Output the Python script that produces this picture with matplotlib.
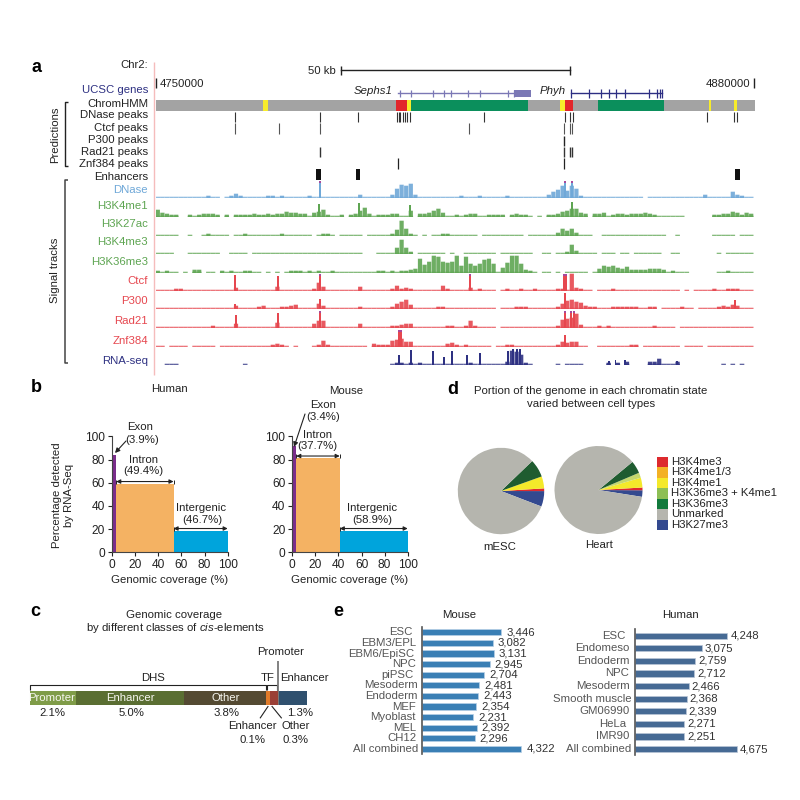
# multi panel chromatin figure
import numpy as np
import matplotlib
matplotlib.use('Agg')
import matplotlib.pyplot as plt
from matplotlib.patches import Rectangle

plt.rcParams['font.family'] = ['Liberation Sans', 'DejaVu Sans']
plt.rcParams['mathtext.fontset'] = 'custom'
plt.rcParams['mathtext.it'] = 'Liberation Sans:italic'
plt.rcParams['mathtext.rm'] = 'Liberation Sans'

# ---- panel a, positions in kb from 4750000 ----
hmm_states = ['gray', 'yellow', 'gray', 'red', 'yellow', 'green', 'gray', 'yellow', 'red', 'gray',
              'green', 'gray', 'yellow', 'gray', 'yellow', 'gray']
hmm_edges = [0, 23.4, 24.5, 52.2, 54.7, 55.5, 81.0, 87.9, 89.0, 90.8, 96.3, 110.5, 120.3, 120.7, 125.8, 126.4, 130.3]
hmm_colors = {'gray': '#a3a3a3', 'yellow': '#f7ec2b', 'red': '#e2262b', 'green': '#0b8f5c'}

dnase_peaks = [17.3, 35.8, 44.0, 52.6, 52.9, 53.2, 53.8, 54.2, 54.7, 55.3, 71.5, 89.0, 90.1, 90.8, 119.8, 125.8, 126.4]
ctcf_peaks = [17.3, 26.8, 35.8, 68.2, 88.8, 90.1, 90.6]
p300_peaks = [88.8]
rad21_peaks = [35.8, 88.8, 90.1, 90.6]
znf384_peaks = [52.7, 88.9]
enhancer_starts = [34.8, 43.6, 126.0]
enhancer_ends = [35.9, 44.5, 127.0]

sephs1_exons = [53.2, 55.5, 60.4, 62.7, 64.2, 67.9, 70.5, 76.7, 77.9]
phyh_exons = [90.3, 94.2, 96.8, 98.5, 100.0, 102.0, 107.3, 109.1, 109.7, 110.0]

dnase_bins = [1, 1, 1, 1, 1, 1, 1, 1, 1, 1,
              1, 2, 1, 1, 0, 1, 2, 4, 2, 1,
              1, 1, 1, 1, 2, 2, 1, 2, 1, 1,
              1, 1, 1, 2, 1, 1, 1, 1, 1, 1,
              1, 1, 1, 1, 3, 1, 1, 1, 1, 1,
              1, 3, 9, 13, 12, 14, 3, 1, 1, 1,
              1, 1, 1, 1, 1, 1, 2, 1, 1, 1,
              2, 1, 1, 1, 1, 1, 2, 1, 1, 1,
              1, 1, 1, 1, 1, 3, 6, 8, 12, 7,
              12, 9, 2, 1, 1, 1, 1, 1, 1, 1,
              1, 1, 1, 1, 1, 1, 0, 1, 1, 1,
              1, 1, 1, 1, 1, 1, 1, 1, 1, 3,
              1, 1, 1, 1, 1, 6, 3, 2, 1, 1]
dnase_spikes = [(35.8, 17), (89.0, 17), (90.5, 17)]

k4me1_bins = [7, 4, 3, 2, 2, 0, 0, 2, 1, 2,
              3, 3, 3, 2, 0, 2, 0, 2, 2, 2,
              2, 3, 2, 2, 3, 2, 3, 3, 5, 4,
              4, 3, 3, 1, 4, 5, 7, 2, 1, 1,
              2, 0, 2, 3, 6, 9, 3, 1, 2, 2,
              2, 3, 3, 1, 1, 6, 0, 3, 3, 4,
              6, 8, 4, 1, 1, 2, 1, 2, 3, 3,
              1, 1, 2, 2, 2, 2, 0, 2, 3, 2,
              2, 1, 0, 1, 0, 2, 2, 3, 5, 6,
              8, 8, 4, 3, 0, 3, 3, 4, 1, 2,
              3, 3, 2, 3, 3, 3, 4, 3, 2, 1,
              1, 1, 1, 1, 1, 0, 0, 0, 0, 0,
              0, 2, 2, 3, 3, 5, 4, 2, 4, 3]
k4me1_spikes = [(35.5, 13), (44.3, 14), (55.3, 12), (90.6, 15)]

k27ac_bins = [1, 1, 1, 1, 1, 0, 0, 1, 0, 0,
              1, 2, 1, 1, 1, 1, 0, 1, 1, 2,
              1, 1, 1, 1, 1, 1, 1, 2, 1, 1,
              1, 1, 1, 1, 0, 1, 2, 2, 1, 0,
              1, 1, 1, 1, 1, 0, 1, 1, 1, 1,
              1, 2, 6, 15, 7, 2, 1, 0, 1, 0,
              1, 1, 2, 2, 1, 1, 1, 1, 1, 1,
              0, 1, 1, 1, 1, 1, 1, 1, 1, 1,
              0, 1, 1, 1, 1, 1, 1, 3, 7, 5,
              7, 3, 1, 1, 1, 0, 0, 1, 1, 1,
              1, 1, 1, 1, 1, 1, 1, 1, 1, 1,
              1, 0, 0, 1, 0, 0, 0, 0, 0, 0,
              0, 1, 1, 1, 1, 1, 0, 1, 1, 1]

k4me3_bins = [1, 1, 1, 1, 0, 0, 0, 1, 1, 1,
              1, 1, 1, 1, 0, 0, 1, 1, 1, 1,
              0, 1, 1, 1, 1, 1, 1, 1, 1, 1,
              1, 1, 1, 1, 1, 1, 1, 1, 1, 1,
              1, 1, 1, 1, 1, 0, 0, 0, 1, 1,
              1, 1, 6, 14, 6, 2, 0, 1, 1, 1,
              1, 1, 1, 0, 1, 0, 0, 1, 1, 1,
              1, 1, 1, 1, 0, 1, 1, 1, 1, 1,
              1, 1, 0, 0, 1, 1, 0, 1, 1, 2,
              9, 3, 1, 1, 1, 1, 0, 1, 1, 1,
              0, 1, 1, 0, 1, 1, 1, 1, 1, 1,
              0, 0, 1, 1, 0, 0, 0, 0, 0, 0,
              0, 0, 1, 0, 1, 1, 1, 1, 1, 1]

k36me3_bins = [2, 1, 2, 1, 1, 0, 1, 0, 3, 3,
               0, 1, 1, 0, 2, 1, 2, 1, 1, 2,
               2, 1, 1, 0, 1, 0, 1, 0, 1, 2,
               2, 2, 1, 2, 1, 2, 1, 1, 2, 1,
               1, 1, 1, 1, 1, 1, 1, 1, 2, 2,
               1, 2, 1, 2, 2, 3, 4, 14, 8, 11,
               17, 16, 11, 10, 11, 17, 7, 16, 9, 7,
               9, 13, 14, 9, 1, 5, 10, 17, 17, 9,
               3, 2, 1, 0, 1, 1, 0, 1, 0, 1,
               1, 1, 1, 1, 0, 1, 4, 7, 6, 7,
               5, 4, 6, 3, 3, 3, 3, 4, 4, 4,
               3, 1, 2, 1, 1, 1, 0, 0, 0, 0,
               0, 0, 1, 1, 2, 1, 1, 1, 1, 1]

ctcf_bins = [1, 1, 1, 1, 2, 2, 1, 1, 1, 1,
             1, 1, 1, 1, 1, 1, 1, 3, 1, 1,
             1, 1, 1, 1, 1, 1, 4, 1, 1, 1,
             1, 1, 1, 1, 2, 8, 4, 1, 1, 1,
             1, 1, 1, 1, 4, 1, 1, 1, 1, 1,
             1, 2, 5, 2, 3, 2, 1, 1, 1, 1,
             1, 1, 5, 2, 1, 1, 1, 1, 3, 1,
             2, 1, 1, 1, 0, 1, 2, 1, 1, 2,
             1, 1, 2, 1, 1, 1, 1, 2, 2, 1,
             17, 3, 2, 1, 1, 0, 1, 1, 1, 2,
             1, 1, 1, 1, 1, 1, 1, 1, 1, 1,
             1, 1, 1, 1, 0, 1, 0, 1, 1, 1,
             1, 2, 1, 1, 2, 2, 2, 1, 1, 1]
ctcf_spikes = [(17.3, 16), (26.7, 15), (35.8, 17), (68.3, 17), (88.85, 17), (89.2, 17)]

p300_bins = [1, 1, 1, 1, 1, 1, 1, 1, 1, 1,
             1, 1, 1, 1, 1, 1, 1, 3, 1, 1,
             1, 1, 2, 3, 1, 1, 1, 2, 2, 3,
             4, 1, 1, 1, 1, 5, 3, 1, 1, 1,
             1, 1, 1, 1, 2, 1, 1, 1, 1, 1,
             1, 2, 5, 7, 9, 4, 1, 1, 1, 1,
             1, 2, 2, 1, 1, 1, 1, 1, 1, 1,
             1, 1, 1, 1, 0, 1, 1, 1, 2, 2,
             2, 1, 1, 1, 1, 1, 1, 2, 5, 8,
             9, 7, 6, 3, 2, 2, 1, 1, 1, 2,
             2, 2, 2, 2, 2, 1, 1, 2, 2, 0,
             1, 1, 1, 1, 2, 1, 1, 0, 1, 1,
             1, 1, 2, 3, 2, 4, 3, 1, 1, 1]
p300_spikes = [(17.3, 5), (35.8, 10), (89.0, 16), (126.0, 9)]

rad21_bins = [1, 1, 1, 1, 1, 1, 1, 1, 1, 1,
              1, 1, 2, 1, 1, 1, 1, 4, 1, 1,
              1, 1, 1, 1, 1, 1, 5, 1, 1, 1,
              1, 1, 1, 1, 4, 7, 7, 1, 1, 1,
              1, 1, 1, 1, 4, 1, 1, 1, 1, 1,
              1, 2, 2, 3, 4, 4, 1, 1, 1, 1,
              1, 1, 1, 2, 2, 1, 1, 2, 7, 2,
              1, 1, 1, 1, 0, 1, 1, 1, 1, 1,
              1, 1, 1, 1, 1, 1, 1, 2, 8, 9,
              10, 14, 3, 1, 1, 1, 2, 1, 2, 1,
              1, 1, 1, 1, 1, 1, 1, 1, 2, 1,
              1, 1, 1, 0, 1, 1, 1, 1, 1, 1,
              1, 1, 1, 1, 1, 1, 1, 1, 1, 1]
rad21_spikes = [(17.4, 13), (26.6, 15), (35.8, 17), (89.0, 17), (90.4, 17), (90.9, 17)]

znf384_bins = [1, 1, 0, 1, 1, 1, 1, 0, 1, 1,
               1, 1, 1, 0, 1, 1, 1, 1, 1, 1,
               1, 1, 1, 1, 1, 2, 3, 2, 1, 0,
               1, 0, 0, 0, 1, 2, 6, 2, 1, 1,
               1, 1, 1, 1, 1, 1, 0, 3, 2, 2,
               2, 6, 7, 8, 5, 5, 1, 1, 1, 1,
               1, 1, 1, 3, 4, 2, 1, 2, 1, 1,
               1, 1, 1, 0, 1, 1, 2, 2, 1, 1,
               1, 1, 1, 1, 1, 1, 1, 2, 5, 4,
               5, 5, 1, 1, 0, 0, 1, 1, 1, 1,
               1, 1, 1, 2, 2, 0, 1, 1, 1, 1,
               1, 1, 1, 1, 0, 1, 1, 1, 1, 0,
               1, 1, 1, 1, 1, 1, 1, 1, 1, 1]
znf384_spikes = [(52.9, 17), (53.3, 17), (89.0, 12)]

rna_bins = [0, 0, 1, 1, 1, 0, 0, 0, 0, 0,
            0, 0, 0, 0, 0, 0, 0, 0, 0, 1,
            0, 0, 0, 0, 0, 0, 0, 0, 0, 0,
            0, 0, 0, 0, 0, 0, 0, 0, 0, 0,
            0, 0, 0, 0, 0, 0, 0, 0, 0, 0,
            0, 1, 2, 2, 1, 2, 1, 2, 1, 1,
            1, 1, 1, 1, 1, 1, 1, 1, 2, 1,
            1, 1, 1, 1, 1, 1, 3, 14, 13, 10,
            2, 1, 0, 0, 0, 0, 0, 1, 0, 1,
            1, 1, 1, 0, 0, 0, 0, 0, 2, 0,
            2, 0, 3, 0, 0, 0, 0, 3, 3, 6,
            1, 1, 1, 3, 0, 0, 0, 0, 0, 0,
            0, 0, 0, 1, 0, 1, 0, 1, 0, 0]
rna_spikes = [(52.9, 10), (55.5, 15), (60.3, 14), (62.8, 8), (64.4, 14), (67.8, 10), (70.5, 12),
              (76.7, 14), (77.7, 16), (78.5, 16), (79.3, 16), (98.5, 4), (100.0, 5), (102.0, 5), (113.3, 4)]

blue_tr = '#6fa8d8'
green_tr = '#5ea552'
red_tr = '#e6474f'
navy_tr = '#2e3182'
tracks = [(198, dnase_bins, dnase_spikes, blue_tr),
          (217, k4me1_bins, k4me1_spikes, green_tr),
          (236, k27ac_bins, [], green_tr),
          (254, k4me3_bins, [], green_tr),
          (273, k36me3_bins, [], green_tr),
          (291, ctcf_bins, ctcf_spikes, red_tr),
          (309, p300_bins, p300_spikes, red_tr),
          (328, rad21_bins, rad21_spikes, red_tr),
          (347, znf384_bins, znf384_spikes, red_tr),
          (365, rna_bins, rna_spikes, navy_tr)]

# ---- panel b ----
b_regions = ['Exon', 'Intron', 'Intergenic']
b_colors = ['#7b2d8b', '#f4b263', '#00a4dc']
human_cov = [3.9, 49.4, 46.7]
human_det = [84, 59, 18.5]
mouse_cov = [3.4, 37.7, 58.9]
mouse_det = [92, 81, 18.5]

# ---- panel c ----
c_names = ['Promoter', 'Enhancer', 'Other', 'TF enhancer', 'TF other', 'TF promoter', 'Enhancer']
c_cover = [2.1, 5.0, 3.8, 0.18, 0.35, 0.03, 1.3]
c_colors = ['#7f9c48', '#5a6e32', '#544a32', '#e07b2a', '#9a3f36', '#777777', '#2f506e']

# ---- panel d ----
esc_vals = [5.8, 1.0, 4.5, 6.7, 82.0]
esc_cols = ['#33498f', '#dd2a2e', '#f4e92a', '#1f5c30', '#b5b5ae']
heart_vals = [2.4, 1.0, 3.6, 1.9, 4.6, 86.5]
heart_cols = ['#33498f', '#dd2a2e', '#f4e92a', '#c5d86d', '#1f5c30', '#b5b5ae']
states = ['H3K4me3', 'H3K4me1/3', 'H3K4me1', 'H3K36me3 + K4me1', 'H3K36me3', 'Unmarked', 'H3K27me3']
state_cols = ['#dd2a2e', '#f3b125', '#f4e92a', '#8dbf55', '#127a3c', '#b5b5ae', '#33498f']

# ---- panel e ----
mouse_cells = ['ESC', 'EBM3/EPL', 'EBM6/EpiSC', 'NPC', 'piPSC', 'Mesoderm', 'Endoderm', 'MEF', 'Myoblast',
               'MEL', 'CH12', 'All combined']
mouse_counts = [3446, 3082, 3131, 2945, 2704, 2481, 2443, 2354, 2231, 2392, 2296, 4322]
human_cells = ['ESC', 'Endomeso', 'Endoderm', 'NPC', 'Mesoderm', 'Smooth muscle', 'GM06990', 'HeLa', 'IMR90',
               'All combined']
human_counts = [4248, 3075, 2759, 2712, 2466, 2368, 2339, 2271, 2251, 4675]

FS = 8.2
INK = '#222222'
fig = plt.figure(figsize=(8, 8), dpi=100)


def pxax(x0, ytop, x1, ybot):
    # axes placed with picture pixels
    return fig.add_axes([x0 / 800, 1 - ybot / 800, (x1 - x0) / 800, (ybot - ytop) / 800])


ov = fig.add_axes([0, 0, 1, 1], zorder=10)
ov.set_xlim(0, 800)
ov.set_ylim(800, 0)
ov.axis('off')
ov.patch.set_alpha(0)


def T(x, y, s, ha='center', color=INK, size=FS, **kw):
    ov.text(x, y, s, ha=ha, va='center', color=color, fontsize=size, **kw)


def L(xs, ys, color=INK, lw=0.8):
    ov.plot(xs, ys, color=color, lw=lw, solid_capstyle='butt')


# panel letters
for s, x, y in [('a', 36, 67), ('b', 36, 388), ('c', 35, 612), ('d', 453, 389), ('e', 338, 612)]:
    T(x, y, s, size=13, fontweight='bold', color='black')

# ---- a ----
L([154, 154], [62, 375], color='#f5bcbc', lw=1)
rows = [('Chr2:', 64.7, INK), ('UCSC genes', 90, navy_tr), ('ChromHMM', 104, INK), ('DNase peaks', 115, INK),
        ('Ctcf peaks', 128, INK), ('P300 peaks', 140, INK), ('Rad21 peaks', 152, INK), ('Znf384 peaks', 164, INK),
        ('Enhancers', 177, INK), ('DNase', 190, blue_tr), ('H3K4me1', 206, green_tr), ('H3K27ac', 224, green_tr),
        ('H3K4me3', 242, green_tr), ('H3K36me3', 262, green_tr), ('Ctcf', 281, red_tr), ('P300', 301, red_tr),
        ('Rad21', 321, red_tr), ('Znf384', 341, red_tr), ('RNA-seq', 361, navy_tr)]
for s, y, c in rows:
    T(148, y, s, ha='right', color=c)

L([68, 64.5, 64.5, 68], [102, 102, 166, 166], lw=1)
L([68, 64.5, 64.5, 68], [180, 180, 362.7, 362.7], lw=1.1, color='#444444')
T(55, 135, 'Predictions', rotation=90)
T(55, 270, 'Signal tracks', rotation=90)

T(159.3, 84, '4750000', ha='left')
T(750, 84, '4880000', ha='right')
L([155.5, 155.5], [77.5, 87.5], lw=1)
L([754.3, 754.3], [77.5, 87.5], lw=1)
T(321.7, 70.5, '50 kb')

# genome strip axes, same mapping for everything on the top of panel a
gx0, gx1 = 155.5, 155.5 + 130.3 * 4.6
top = pxax(gx0, 60, gx1, 182)
top.set_xlim(0, 130.3)
top.set_ylim(182, 60)
top.axis('off')
top.plot([40.3, 90.1], [70, 70], color=INK, lw=1)
top.vlines([40.3, 90.1], 66, 75, color=INK, lw=1)
for i, st in enumerate(hmm_states):
    top.barh(105.5, hmm_edges[i + 1] - hmm_edges[i], 11, left=hmm_edges[i], color=hmm_colors[st], lw=0)
top.vlines(dnase_peaks, 112, 122, color='#333333', lw=0.8)
top.vlines(ctcf_peaks, 123, 134, color='#555555', lw=0.8)
top.vlines(p300_peaks, 135.7, 145.7, color='#222222', lw=1)
top.vlines(rad21_peaks, 146.7, 157, color='#333333', lw=1)
top.vlines(znf384_peaks, 158, 169, color='#222222', lw=0.9)
top.barh(174.5, np.array(enhancer_ends) - np.array(enhancer_starts), 11, left=enhancer_starts, color='#111111', lw=0)
# genes
seph_c = '#7b78b5'
phyh_c = '#2d2e83'
top.plot([52.7, 77.9], [93.3, 93.3], color=seph_c, lw=1)
top.vlines(sephs1_exons, 89.5, 97, color=seph_c, lw=0.9)
top.barh(93.5, 3.8, 6.5, left=77.9, color=seph_c, lw=0)
top.plot([90.3, 110.0], [93.3, 93.3], color=phyh_c, lw=1)
top.vlines(phyh_exons, 89, 97.5, color=phyh_c, lw=0.9)
T(392.7, 91.5, 'Sephs1', ha='right', style='italic', color='#222222')
T(566, 91.5, 'Phyh', ha='right', style='italic', color='#222222')

for base, bins, spikes, col in tracks:
    tr = pxax(gx0, base - 18, gx1, base)
    tr.set_xlim(0, 130.3)
    tr.set_ylim(0, 18)
    tr.axis('off')
    x = np.arange(len(bins))
    vals = np.array(bins, dtype=float)
    # light floor so that the baseline shows, bars on top of it nearly touching
    tr.bar(x[vals > 0], 1.3, width=1, align='edge', color=col, lw=0, alpha=0.75, snap=False)
    tall = vals > 1
    tr.bar(x[tall] + 0.5, vals[tall] + 0.3, width=0.92, color=col, lw=0, alpha=0.9, snap=False)
    for sx, h in spikes:
        tr.bar(sx, h, width=0.42, color=col, lw=0)
        if h >= 17:
            tr.bar(sx, 2, width=0.42, bottom=h - 2, color='#a84a9c', lw=0)

# ---- b ----
for x0, x1, cov, det, title, tx, ty in [(111.7, 227.7, human_cov, human_det, 'Human', 169, 389),
                                        (292.3, 407.7, mouse_cov, mouse_det, 'Mouse', 346, 391)]:
    ax = pxax(x0, 436.3, x1, 552.3)
    lefts = np.concatenate([[0], np.cumsum(cov)[:-1]])
    ax.bar(lefts, det, cov, align='edge', color=b_colors, lw=0)
    ax.set_xlim(0, 100)
    ax.set_ylim(0, 100)
    ax.set_xticks(range(0, 101, 20))
    ax.set_yticks(range(0, 101, 20))
    ax.tick_params(labelsize=8.6, length=3, width=0.8, pad=2, colors=INK)
    ax.spines['top'].set_visible(False)
    ax.spines['right'].set_visible(False)
    ax.spines['left'].set_color('#444444')
    ax.spines['bottom'].set_color('#444444')
    ax.patch.set_alpha(0)
    # widths marked with double arrows
    for left, w, d in zip(lefts[1:], cov[1:], det[1:]):
        ax.annotate('', xy=(left, d + 2), xytext=(left + w, d + 2), annotation_clip=False,
                    arrowprops=dict(arrowstyle='<|-|>', color=INK, lw=0.8, mutation_scale=6, shrinkA=0, shrinkB=0))
        ax.vlines([left, left + w], d, d + 3.5, color=INK, lw=0.7)
    T(tx, ty, title)
    T((x0 + x1) / 2, 580, 'Genomic coverage (%)')
T(63, 495, 'Percentage detected\nby RNA-Seq', rotation=90, linespacing=1.3)

for x, y, s in [(140, 427, 'Exon'), (142, 440, '(3.9%)'), (143, 460, 'Intron'), (143, 471, '(49.4%)'),
                (201, 508, 'Intergenic'), (202, 520, '(46.7%)'), (323, 405, 'Exon'), (323, 417, '(3.4%)'),
                (317, 435, 'Intron'), (317, 446, '(37.7%)'), (372, 508, 'Intergenic'), (372, 520, '(58.9%)')]:
    T(x, y, s)
ov.annotate('', xy=(115, 453), xytext=(126, 441),
            arrowprops=dict(arrowstyle='-|>', color=INK, lw=0.8, mutation_scale=7, shrinkA=0, shrinkB=0))
ov.annotate('', xy=(294, 447), xytext=(305, 414),
            arrowprops=dict(arrowstyle='-|>', color=INK, lw=0.8, mutation_scale=7, shrinkA=0, shrinkB=0))

# ---- c ----
T(174.3, 615, 'Genomic coverage')
T(175.7, 628, 'by different classes of $cis$-elements')
cax = pxax(30, 690.7, 306.7, 705)
cax.barh(0, c_cover, 1, left=np.concatenate([[0], np.cumsum(c_cover)[:-1]]), color=c_colors, lw=0, align='edge')
cax.set_xlim(0, sum(c_cover))
cax.set_ylim(0, 1)
cax.axis('off')
for x, s in [(52, 'Promoter'), (130.5, 'Enhancer'), (225.5, 'Other')]:
    T(x, 698, s, color='#f7f7f0')
for x, s in [(52, '2.1%'), (131.7, '5.0%'), (226.7, '3.8%'), (300, '1.3%')]:
    T(x, 713, s)
L([30, 30, 266, 266], [689.5, 685.3, 685.3, 689.5], lw=0.8)
L([267.3, 267.3, 276.7, 276.7], [689.5, 685.3, 685.3, 689.5], lw=0.8)
L([277.7, 277.7], [661, 691], color='#777777', lw=1.3)
T(153.5, 678, 'DHS')
T(268, 678, 'TF')
T(304, 678, 'Enhancer')
T(280.7, 651.7, 'Promoter')
L([268.3, 260], [706, 718.3])
L([271.7, 281.7], [706, 718.3])
T(252.7, 726, 'Enhancer')
T(252.7, 740, '0.1%')
T(295.3, 726, 'Other')
T(295.3, 740, '0.3%')

# ---- d ----
T(590.7, 390.7, 'Portion of the genome in each chromatin state')
T(590.7, 404, 'varied between cell types')
for vals, cols, cx, cy, r, start in [(esc_vals, esc_cols, 501, 491, 43.2, -21),
                                     (heart_vals, heart_cols, 598.5, 490, 44, -9)]:
    pa = pxax(cx - r, cy - r, cx + r, cy + r)
    pa.pie(vals, colors=cols, startangle=start, radius=1, wedgeprops=dict(lw=0))
    pa.set_xlim(-1, 1)
    pa.set_ylim(-1, 1)
T(500, 547, 'mESC')
T(599.3, 545.3, 'Heart')
for i, (s, c) in enumerate(zip(states, state_cols)):
    ov.add_patch(Rectangle((657.3, 456.7 + i * 10.48), 10.7, 10.48, color=c, lw=0))
    T(671.3, 461.7 + i * 10.55, s, ha='left')

# ---- e ----
mouse_gap = [9, 5, 7, 5.7, 7.7, 3.7, 4.3, 5.7, 6.3, 5, 5, 3.3]
human_gap = [9.7, 5, 5, 5.7, 5, 3.7, 5, 9, 5.7, 4]
for cells, counts, gaps, x0, ytop, ybot, w, col, edge, vgap in [
        (mouse_cells, mouse_counts, mouse_gap, 421.7, 627, 754.3, 115.3, '#3a7fb5', '#b7d0e6', 5),
        (human_cells, human_counts, human_gap, 635, 629.4, 755.3, 108.75, '#466a94', '#b9c6d6', 3)]:
    ax = pxax(x0, ytop, x0 + w, ybot)
    y = np.arange(len(cells))
    bar_h = 6.2 / ((ybot - ytop) / len(cells))
    ax.barh(y, counts, bar_h, color=col, edgecolor=edge, lw=0.5)
    ax.set_xlim(0, 5000)
    ax.set_ylim(len(cells) - 0.5, -0.5)
    ax.set_xticks([])
    ax.set_yticks([])
    for sp in ['top', 'right', 'bottom']:
        ax.spines[sp].set_visible(False)
    ax.spines['left'].set_color('#555555')
    ax.spines['left'].set_linewidth(1.2)
    ax.patch.set_alpha(0)
    for i in y:
        ax.annotate(cells[i], xy=(0, i), xytext=(-gaps[i] * 0.72, 0), textcoords='offset points',
                    ha='right', va='center', fontsize=FS, color='#555555', annotation_clip=False)
        ax.annotate(f'{counts[i]:,}', xy=(counts[i], i), xytext=(vgap * 0.72, 0), textcoords='offset points',
                    ha='left', va='center', fontsize=FS, color='#333333', annotation_clip=False)
T(459.3, 614.7, 'Mouse')
T(680, 614.7, 'Human')

plt.savefig('out.png', dpi=100)
